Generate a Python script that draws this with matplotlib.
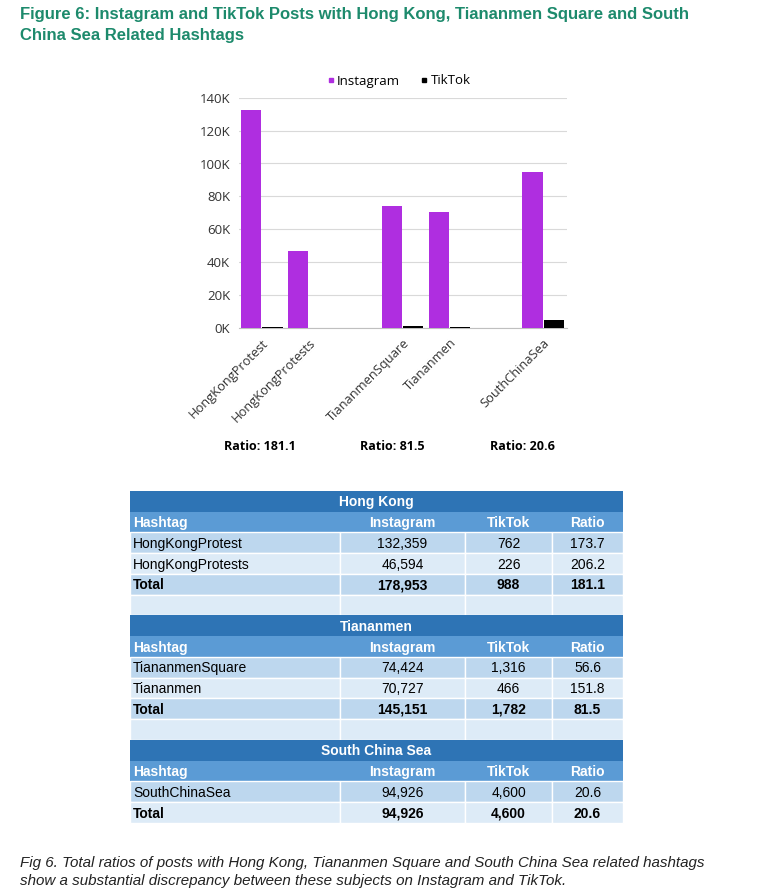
import numpy as np
import matplotlib.pyplot as plt
from matplotlib.patches import Rectangle
from matplotlib.lines import Line2D

# chart data
hashtags = ['HongKongProtest', 'HongKongProtests', '', 'TiananmenSquare', 'Tiananmen', '', 'SouthChinaSea']
instagram = [132359, 46594, np.nan, 74424, 70727, np.nan, 94926]
tiktok = [762, 226, np.nan, 1316, 466, np.nan, 4600]
ratio_labels = ['Ratio: 181.1', 'Ratio: 81.5', 'Ratio: 20.6']
yticks = [0, 20000, 40000, 60000, 80000, 100000, 120000, 140000]
ytick_labels = ['0K', '20K', '40K', '60K', '80K', '100K', '120K', '140K']

# table data
sections = ['Hong Kong', 'Tiananmen', 'South China Sea']
col_names = ['Hashtag', 'Instagram', 'TikTok', 'Ratio']
rows_hk = [['HongKongProtest', '132,359', '762', '173.7'],
           ['HongKongProtests', '46,594', '226', '206.2'],
           ['Total', '178,953', '988', '181.1']]
rows_tia = [['TiananmenSquare', '74,424', '1,316', '56.6'],
            ['Tiananmen', '70,727', '466', '151.8'],
            ['Total', '145,151', '1,782', '81.5']]
rows_scs = [['SouthChinaSea', '94,926', '4,600', '20.6'],
            ['Total', '94,926', '4,600', '20.6']]

title = 'Figure 6: Instagram and TikTok Posts with Hong Kong, Tiananmen Square and South\nChina Sea Related Hashtags'
caption = ('Fig 6. Total ratios of posts with Hong Kong, Tiananmen Square and South China Sea related hashtags\n'
           'show a substantial discrepancy between these subjects on Instagram and TikTok.')

W, H = 769, 896
fig = plt.figure(figsize=(W / 100, H / 100), dpi=100)

# overlay in pixel coords for title, table, caption
ov = fig.add_axes([0, 0, 1, 1])
ov.set_xlim(0, W)
ov.set_ylim(H, 0)
ov.axis('off')

ov.text(20, 25, title, color='#1D8A6C', fontsize=12.0, fontweight='bold',
        family='Liberation Sans', va='center', linespacing=1.45)

# bar chart
ax = fig.add_axes([238.5 / W, (H - 328) / H, 328 / W, 230.3 / H])
x = np.arange(len(hashtags))
bw = 0.43
ax.bar(x - 0.225, instagram, bw, color='#AF2EE0', zorder=3)
ax.bar(x + 0.225, tiktok, bw, color='black', zorder=3)
ax.set_xlim(-0.5, len(hashtags) - 0.5)
ax.set_ylim(0, 140000)
ax.set_yticks(yticks)
ax.set_yticklabels(ytick_labels, family='Open Sans', fontsize=9.5, color='#333333')
ax.tick_params(axis='both', length=0, pad=6)
ax.grid(axis='y', color='#D9D9D9', lw=0.8, zorder=0)
for s in ['top', 'right', 'left']:
    ax.spines[s].set_visible(False)
ax.spines['bottom'].set_color('#BFBFBF')
ax.set_xticks(x)
ax.set_xticklabels(hashtags, rotation=45, ha='right', rotation_mode='anchor',
                   family='Open Sans', fontsize=9.3, color='#333333')

handles = [Line2D([], [], marker='s', ls='', color='#AF2EE0', markersize=3.5),
           Line2D([], [], marker='s', ls='', color='black', markersize=3.5)]
fig.legend(handles, ['Instagram', 'TikTok'], loc='center', bbox_to_anchor=(398 / W, 1 - 81 / H),
           ncol=2, frameon=False, prop={'family': 'Open Sans', 'size': 9.5}, handletextpad=0.1,
           columnspacing=1.4, handlelength=0.8)

for lbl, px in zip(ratio_labels, [260, 392, 522]):
    ov.text(px, 447, lbl, ha='center', va='center', fontsize=9, fontweight='bold',
            family='Open Sans', color='black')

# table
col_x = [130, 340, 465, 552, 623]
dark = '#2E74B5'
mid = '#5B9BD5'
light1 = '#BDD7EE'
light2 = '#DDEBF7'
rh = 20.75
fs = 10
y = 491


def cell_text(cx, top, s, ha, bold, color):
    ov.text(cx, top + rh / 2 + 5, s, ha=ha, va='baseline', fontsize=fs, family='Liberation Sans',
            fontweight='bold' if bold else 'normal', color=color)


for si, (sec, rows) in enumerate(zip(sections, [rows_hk, rows_tia, rows_scs])):
    ov.add_patch(Rectangle((col_x[0], y), col_x[-1] - col_x[0], rh, color=dark, lw=0))
    cell_text((col_x[0] + col_x[-1]) / 2, y, sec, 'center', True, 'white')
    y += rh
    ov.add_patch(Rectangle((col_x[0], y), col_x[-1] - col_x[0], rh, color=mid, lw=0))
    for ci, cn in enumerate(col_names):
        if ci == 0:
            cell_text(col_x[0] + 3, y, cn, 'left', True, 'white')
        else:
            cell_text((col_x[ci] + col_x[ci + 1]) / 2, y, cn, 'center', True, 'white')
    y += rh
    body = list(rows) + ([['', '', '', '']] if si < 2 else [])
    for ri, row in enumerate(body):
        fc = light1 if ri % 2 == 0 else light2
        bold = row[0] == 'Total'
        for ci in range(4):
            ov.add_patch(Rectangle((col_x[ci], y), col_x[ci + 1] - col_x[ci], rh, facecolor=fc,
                                   edgecolor='white', lw=1))
            if row[ci]:
                if ci == 0:
                    cell_text(col_x[0] + 3, y, row[ci], 'left', bold, 'black')
                else:
                    cell_text((col_x[ci] + col_x[ci + 1]) / 2, y, row[ci], 'center', bold, 'black')
        y += rh

ov.text(20, 872, caption, ha='left', va='center', fontsize=10.9, style='italic',
        family='Liberation Sans', color='#222222', linespacing=1.3)

fig.savefig('out.png', dpi=100)
